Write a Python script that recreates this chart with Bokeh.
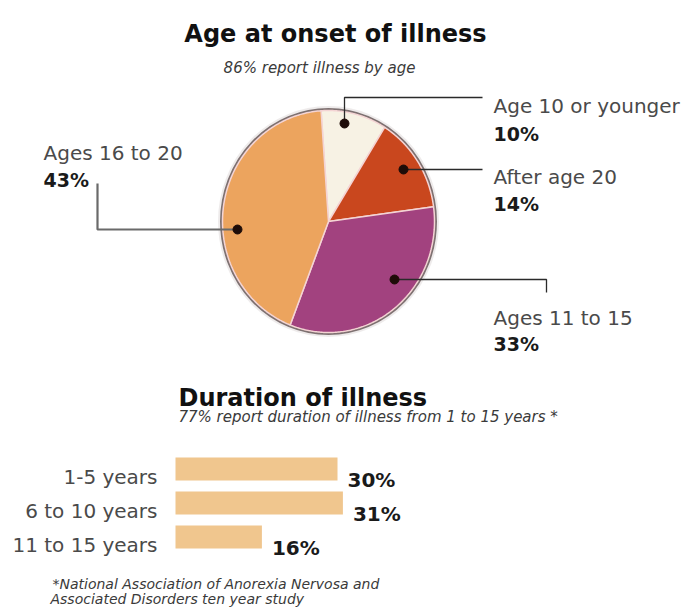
import numpy as np
from bokeh.plotting import figure
from bokeh.models import Range1d, ColumnDataSource
from bokeh.core.properties import value
from bokeh.embed import file_html
from bokeh.resources import INLINE

# ---- data -------------------------------------------------------------
# Age at onset of illness, percent of respondents, clockwise from the top
onset_labels = ["Age 10 or younger", "After age 20", "Ages 11 to 15", "Ages 16 to 20"]
onset_pct = [10, 14, 33, 43]
onset_colors = ["#f7f2e4", "#c9471e", "#a2427f", "#eca45e"]

# Duration of illness, percent of respondents
duration_labels = ["1-5 years", "6 to 10 years", "11 to 15 years"]
duration_pct = [30, 31, 16]

# ---- page / canvas ----------------------------------------------------
W, H = 690, 616
FONT = value("DejaVu Sans")

p = figure(width=W, height=H, x_range=Range1d(0, W), y_range=Range1d(H, 0),
           output_backend="svg", toolbar_location=None, min_border=0,
           x_axis_location=None, y_axis_location=None)
p.grid.visible = False
p.outline_line_color = None
p.background_fill_color = "white"
p.border_fill_color = "white"


def txt(x, y, s, size, color="#4a4a4a", style="normal", align="left", **kw):
    p.text(x=x, y=y, text=s, text_font=FONT, text_font_size=size,
           text_font_style=style, text_color=color, text_align=align,
           text_baseline="alphabetic", **kw)


# ---- pie: age at onset -------------------------------------------------
CX, CY, RX, RY = 328, 221, 106, 111
START_DEG = -4.0

# soft dark rim around the pie
p.ellipse(x=[CX], y=[CY], width=2 * RX + 7, height=2 * RY + 7, fill_color=None,
          line_color="#8a7c7c", line_width=2, line_alpha=0.15)
p.ellipse(x=[CX], y=[CY], width=2 * RX + 2.5, height=2 * RY + 2.5, fill_color=None,
          line_color="#5e4e4e", line_width=2.5, line_alpha=0.8)

fracs = np.array(onset_pct, dtype=float) / sum(onset_pct)
edges = START_DEG + 360.0 * np.concatenate([[0.0], np.cumsum(fracs)])
xs, ys = [], []
for a0, a1 in zip(edges[:-1], edges[1:]):
    t = np.radians(np.linspace(a0, a1, 160))
    xs.append(np.concatenate([[CX], CX + RX * np.sin(t), [CX]]).tolist())
    ys.append(np.concatenate([[CY], CY - RY * np.cos(t), [CY]]).tolist())
p.patches(xs="xs", ys="ys", fill_color="color", line_color="#f4d4d4", line_width=1.5,
          source=ColumnDataSource(dict(xs=xs, ys=ys, color=onset_colors)))

# callouts: dot, leader path, label anchor, percent anchor (page pixels)
callouts = [
    dict(path=[(344, 123), (344, 97), (482, 97)], label=(493, 105), pct=(493, 133),
         color="#2a2a2a", lw=1.3),
    dict(path=[(403, 169), (482, 169)], label=(493, 176), pct=(493, 203),
         color="#2a2a2a", lw=1.3),
    dict(path=[(394, 279), (546, 279), (546, 292)], label=(493, 317), pct=(493, 343),
         color="#2a2a2a", lw=1.3),
    dict(path=[(237, 229), (97, 229), (97, 183)], label=(43, 152), pct=(43, 179),
         color="#6a6a6a", lw=2.2),
]
for c in callouts:
    px, py = zip(*c["path"])
    p.line(x=list(px), y=list(py), line_color=c["color"], line_width=c["lw"])
p.scatter(x=[c["path"][0][0] for c in callouts], y=[c["path"][0][1] for c in callouts],
          size=9, color="#1e0c08")

for c, lab, v in zip(callouts, onset_labels, onset_pct):
    txt([c["label"][0]], [c["label"][1]], [lab], "20px")
    txt([c["pct"][0]], [c["pct"][1]], [f"{v}%"], "19px", color="#1a1a1a", style="bold")

txt([335], [33], ["Age at onset of illness"], "24px", color="#111111", style="bold",
    align="center")
txt([319], [67], ["86% report illness by age"], "15px", color="#3a3a3a", style="italic",
    align="center")

# ---- bars: duration of illness -----------------------------------------
BAR_X0 = 175          # page x of the 0% baseline
PX_PER_PCT = 5.4      # bar scale
ROW0, ROW_STEP, BAR_H = 468.5, 34, 23
p.extra_x_ranges = {"pct": Range1d(-BAR_X0 / PX_PER_PCT, (W - BAR_X0) / PX_PER_PCT)}

rows = [ROW0 + i * ROW_STEP for i in range(len(duration_pct))]
p.hbar(y=rows, left=0, right=duration_pct, height=BAR_H, x_range_name="pct",
       fill_color="#f0c68e", line_color=None)
p.text(x=duration_pct, y=[r + 10.5 for r in rows], text=[f"{v}%" for v in duration_pct],
       x_range_name="pct", x_offset=10, text_font=FONT, text_font_size="20px",
       text_font_style="bold", text_color="#1a1a1a", text_baseline="alphabetic")
txt([BAR_X0 - 18] * len(rows), [r + 7.5 for r in rows], duration_labels, "20px",
    align="right")

txt([178], [397], ["Duration of illness"], "24px", color="#111111", style="bold")
txt([178], [416], ["77% report duration of illness from 1 to 15 years *"], "15px",
    color="#3a3a3a", style="italic")

txt([52, 50], [583, 598], ["*National Association of Anorexia Nervosa and",
                           "Associated Disorders ten year study"], "14px",
    color="#3a3a3a", style="italic")

open("out.html", "w").write(file_html(p, INLINE))
